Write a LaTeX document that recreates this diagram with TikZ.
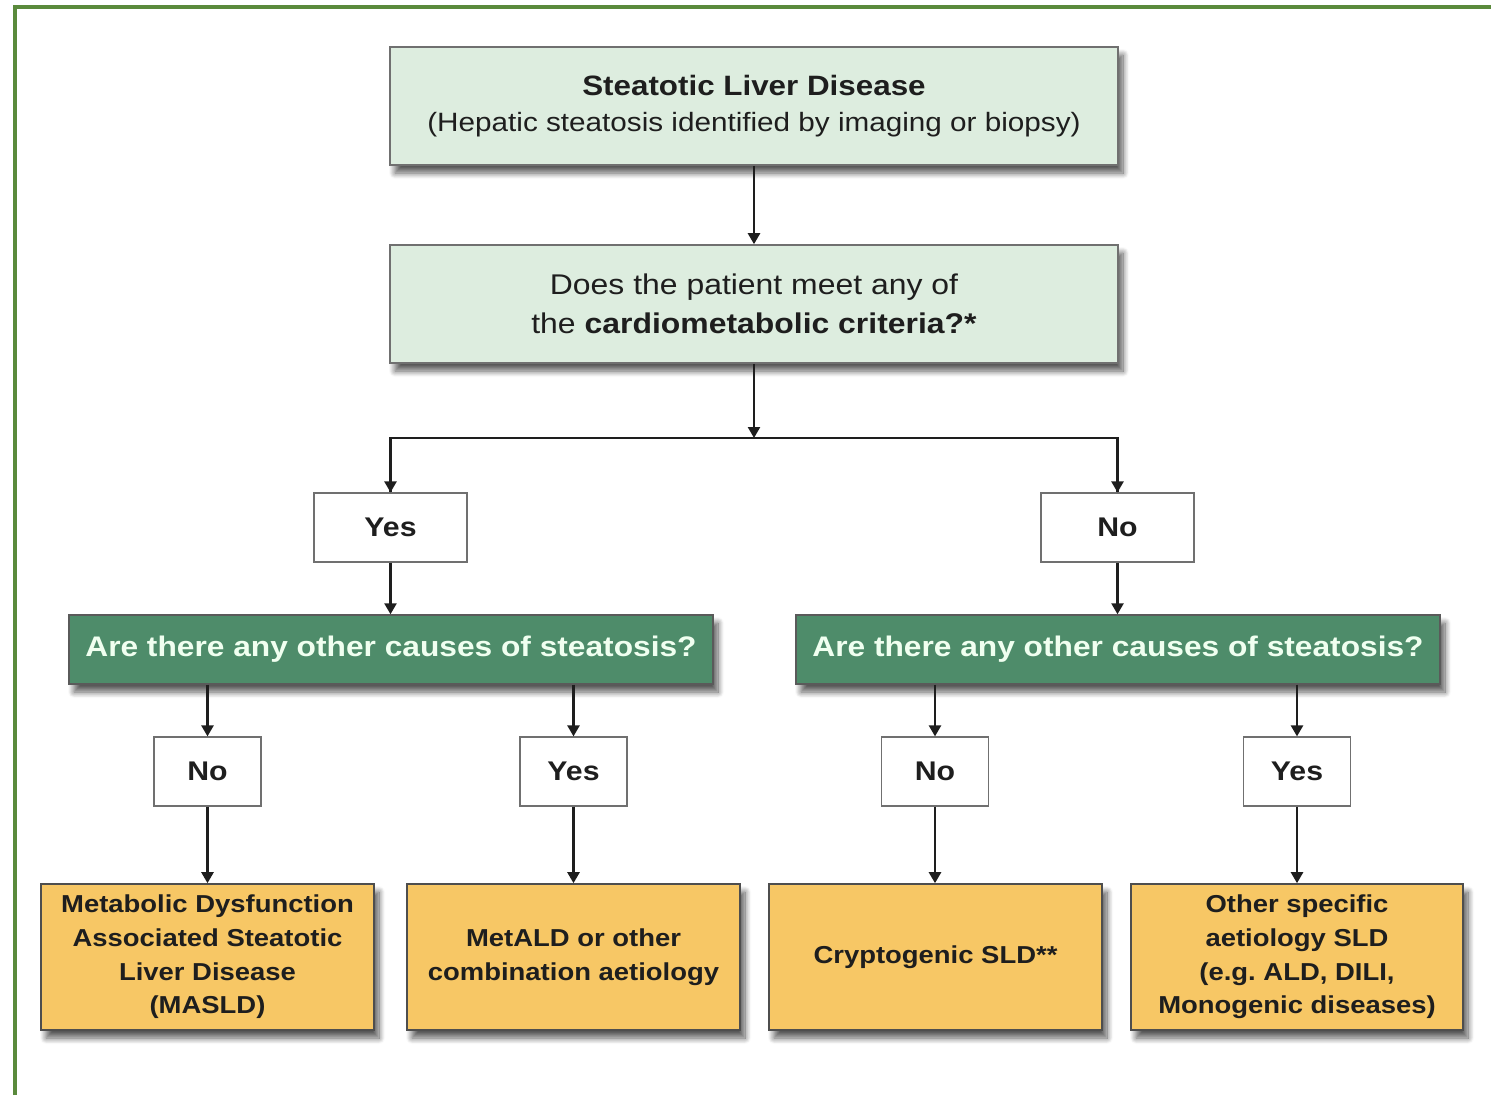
\documentclass[tikz,border=0pt]{standalone}
\usepackage{fontspec}
\setmainfont[FakeStretch=1.12]{Liberation Sans}
\usetikzlibrary{arrows.meta,shadows.blur}

\definecolor{framegreen}{HTML}{5A8A3C}
\definecolor{palegreen}{HTML}{DDEDDF}
\definecolor{boxgray}{HTML}{707070}
\definecolor{deepgreen}{HTML}{4E8C6A}
\definecolor{gold}{HTML}{F7C765}
\definecolor{inkdark}{HTML}{1E1E1E}

\tikzset{
  shade/.style={blur shadow={shadow xshift=5pt, shadow yshift=-8pt, shadow blur steps=10,
    shadow blur radius=6pt, shadow opacity=65}},
  headbox/.style={draw=boxgray, line width=1.6pt, fill=palegreen, shade, align=center,
    minimum width=728pt, minimum height=118pt, inner sep=0pt, text=inkdark},
  answer/.style={draw=boxgray, line width=1.2pt, fill=white, inner sep=0pt, text=inkdark,
    font=\fontsize{27}{32}\selectfont\bfseries},
  askbox/.style={draw=boxgray!80!black, line width=1.4pt, fill=deepgreen, shade, inner sep=0pt,
    minimum width=644pt, minimum height=69pt, text=white!94!green,
    font=\fontsize{28.3}{32}\selectfont\bfseries},
  outcome/.style={draw=boxgray!70!black, line width=1.6pt, fill=gold, shade, align=center,
    minimum width=333pt, minimum height=146pt, inner sep=0pt, text=inkdark,
    font=\fontsize{24.5}{33.7}\selectfont\bfseries},
  flow/.style={draw=inkdark, line width=2.4pt, -{Triangle[width=12pt,length=11pt]}},
  plainline/.style={draw=inkdark, line width=2.4pt}
}

\begin{document}
\begin{tikzpicture}[x=1pt,y=-1pt]
  \useasboundingbox (0,0) rectangle (1491,1095);
  % open frame along the left and top edges
  \draw[framegreen, line width=3.2pt] (15,1095) -- (15,7) -- (1491,7);

  % header and first question
  \node[headbox, font=\fontsize{26.5}{36}\selectfont] (top) at (754,106)
    {{\fontsize{28}{36}\selectfont\bfseries Steatotic Liver Disease}\\
     (Hepatic steatosis identified by imaging or biopsy)};
  \node[headbox, font=\fontsize{28.5}{39}\selectfont] (crit) at (754,304)
    {Does the patient meet any of\\
     the \textbf{cardiometabolic criteria?*}};

  % first answers
  \node[answer, minimum width=153pt, minimum height=69pt] (yesA) at (390.5,527.5) {Yes};
  \node[answer, minimum width=153pt, minimum height=69pt] (noA) at (1117.5,527.5) {No};

  % follow-up questions
  \node[askbox] (askL) at (391,649.5) {Are there any other causes of steatosis?};
  \node[askbox] (askR) at (1118,649.5) {Are there any other causes of steatosis?};

  % second answers
  \node[answer, minimum width=107pt, minimum height=69pt] (noL) at (207.5,771.5) {No};
  \node[answer, minimum width=107pt, minimum height=69pt] (yesL) at (573.5,771.5) {Yes};
  \node[answer, minimum width=107pt, minimum height=69pt] (noR) at (935,771.5) {No};
  \node[answer, minimum width=107pt, minimum height=69pt] (yesR) at (1297,771.5) {Yes};

  % outcomes
  \node[outcome] (masld) at (207.5,957)
    {Metabolic Dysfunction\\Associated Steatotic\\Liver Disease\\(MASLD)};
  \node[outcome] (metald) at (573.5,957)
    {MetALD or other\\combination aetiology};
  \node[outcome] (crypto) at (935.5,957) {Cryptogenic SLD**};
  \node[outcome, minimum width=332pt] (other) at (1297,957)
    {Other specific\\aetiology SLD\\(e.g.\ ALD, DILI,\\Monogenic diseases)};

  % connectors
  \coordinate (split) at (754,438);
  \draw[flow] (top.south) -- (crit.north);
  \draw[flow] (crit.south) -- (split);
  \draw[plainline] (split) -| (yesA.north);
  \draw[plainline] (split) -| (noA.north);
  \draw[flow] (split -| yesA.north) -- (yesA.north);
  \draw[flow] (split -| noA.north) -- (noA.north);
  \draw[flow] (yesA.south) -- (askL.north -| yesA.south);
  \draw[flow] (noA.south) -- (askR.north -| noA.south);
  \draw[flow] (askL.south -| noL.north) -- (noL.north);
  \draw[flow] (askL.south -| yesL.north) -- (yesL.north);
  \draw[flow] (askR.south -| noR.north) -- (noR.north);
  \draw[flow] (askR.south -| yesR.north) -- (yesR.north);
  \draw[flow] (noL.south) -- (masld.north -| noL.south);
  \draw[flow] (yesL.south) -- (metald.north -| yesL.south);
  \draw[flow] (noR.south) -- (crypto.north -| noR.south);
  \draw[flow] (yesR.south) -- (other.north -| yesR.south);
\end{tikzpicture}
\end{document}
